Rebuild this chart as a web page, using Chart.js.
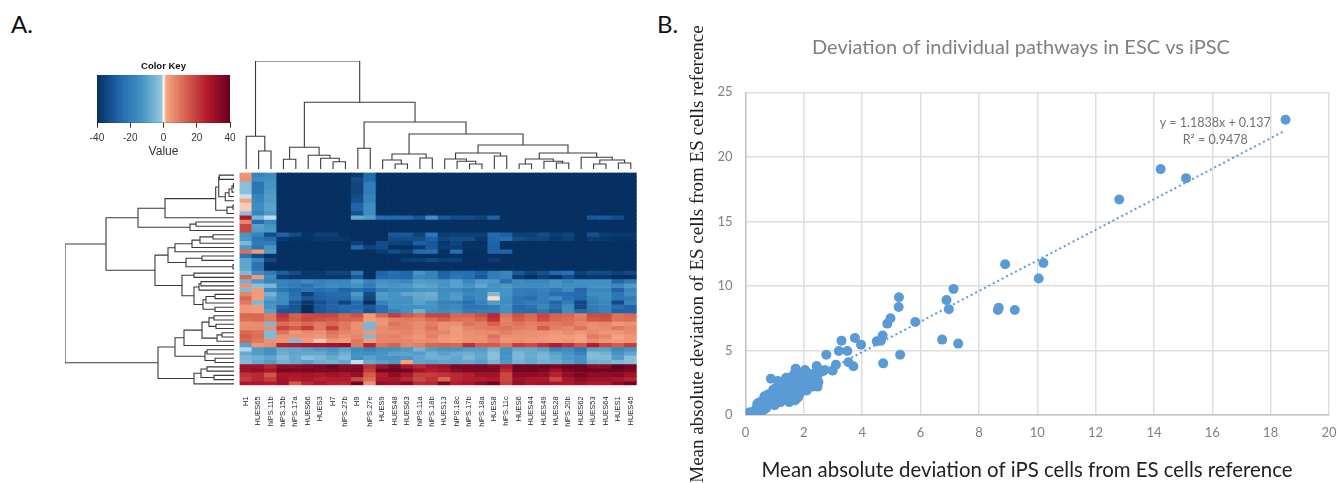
<!DOCTYPE html>
<html>
<head>
<meta charset="utf-8">
<title>Pathway deviation in ESC vs iPSC</title>
<script src="https://cdn.jsdelivr.net/npm/chart.js@4"></script>
<style>
  html, body { margin: 0; padding: 0; background: #fff; overflow: hidden; }
  body { width: 1338px; height: 483px; position: relative; }
  canvas { position: absolute; }
  .soft { filter: blur(0.4px); }
  .panel { position: absolute; font: 24px Lato, sans-serif; color: #111; }
</style>
</head>
<body>
<div class="panel" style="left:11px;top:9px">A.</div>
<div class="panel" style="left:657px;top:9px">B.</div>
<canvas id="key" class="soft" width="181" height="105" style="left:73px;top:55px"></canvas>
<canvas id="colTree" class="soft" width="401" height="112" style="left:237.5px;top:58.5px"></canvas>
<canvas id="rowTree" class="soft" width="173" height="217" style="left:62.7px;top:170.6px"></canvas>
<canvas id="heat" class="soft" width="425" height="275" style="left:225px;top:165px"></canvas>
<canvas id="scatter" width="683" height="483" style="left:655px;top:0"></canvas>
<script>
// ---- panel A data ----
const colNames = ['H1', 'HUES65', 'hiPS.11b', 'hiPS.15b', 'hiPS.17a', 'HUES66', 'HUES3', 'H7', 'hiPS.27b', 'H9', 'hiPS.27e', 'HUES9', 'HUES48', 'HUES63', 'hiPS.11a', 'hiPS.18b', 'HUES13', 'hiPS.18c', 'hiPS.17b', 'hiPS.18a', 'HUES8', 'hiPS.11c', 'HUES6', 'HUES44', 'HUES49', 'HUES28', 'hiPS.20b', 'HUES62', 'HUES53', 'HUES64', 'HUES1', 'HUES45'];

// top 25 rows, one array per row
const heatUpperRows = [
  [4,-18,-15,-40,-40,-40,-40,-40,-40,-38,-25,-40,-40,-40,-40,-40,-40,-40,-40,-40,-40,-40,-40,-40,-40,-40,-40,-40,-40,-40,-40,-40],
  [5,-15,-14,-40,-40,-40,-40,-40,-40,-33,-25,-40,-40,-40,-40,-40,-40,-40,-40,-40,-40,-40,-40,-40,-40,-40,-40,-40,-40,-40,-40,-40],
  [-3,-22,-13,-40,-40,-40,-40,-40,-40,-35,-20,-40,-40,-40,-40,-40,-40,-40,-40,-40,-40,-40,-40,-40,-40,-40,-40,-40,-40,-40,-40,-40],
  [-3,-22,-13,-40,-40,-40,-40,-40,-40,-35,-20,-40,-40,-40,-40,-40,-40,-40,-40,-40,-40,-40,-40,-40,-40,-40,-40,-40,-40,-40,-40,-40],
  [-3,-21,-12,-40,-40,-40,-40,-40,-40,-35,-20,-40,-40,-40,-40,-40,-40,-40,-40,-40,-40,-40,-40,-40,-40,-40,-40,-40,-40,-40,-40,-40],
  [-0.7,-18,-11,-40,-40,-40,-40,-40,-40,-33,-18,-40,-40,-40,-40,-40,-40,-40,-40,-40,-40,-40,-40,-40,-40,-40,-40,-40,-40,-40,-40,-40],
  [2,-17,-11,-40,-40,-40,-40,-40,-40,-32,-18,-40,-40,-40,-40,-40,-40,-40,-40,-40,-40,-40,-40,-40,-40,-40,-40,-40,-40,-40,-40,-40],
  [0.8,-15,-10,-40,-40,-40,-40,-40,-40,-27,-15,-40,-40,-40,-40,-40,-40,-40,-40,-40,-40,-40,-40,-40,-40,-40,-40,-40,-40,-40,-40,-40],
  [0.8,-15,-10,-40,-40,-40,-40,-40,-40,-27,-15,-40,-40,-40,-40,-40,-40,-40,-40,-40,-40,-40,-40,-40,-40,-40,-40,-40,-40,-40,-40,-40],
  [-3,-18,-12,-40,-40,-40,-40,-40,-40,-32,-15,-40,-40,-40,-40,-40,-40,-40,-40,-40,-40,-40,-40,-40,-40,-40,-40,-40,-40,-40,-40,-40],
  [28,-5,-0.8,-40,-40,-40,-40,-40,-40,-8,-11,-25,-26,-26,-31,-15,-30,-33,-33,-35,-28,-40,-40,-40,-40,-40,-40,-40,-30,-30,-33,-40],
  [7,-25,-17,-40,-40,-40,-40,-40,-40,-40,-40,-40,-40,-40,-40,-40,-40,-40,-40,-40,-40,-40,-40,-40,-40,-40,-40,-40,-40,-40,-40,-40],
  [18,-10,-13,-40,-40,-40,-40,-40,-40,-40,-40,-40,-40,-40,-40,-40,-40,-40,-40,-40,-40,-40,-40,-40,-40,-40,-40,-40,-40,-40,-40,-40],
  [18,-11,-12,-40,-40,-40,-40,-40,-40,-40,-40,-40,-40,-40,-40,-40,-40,-40,-40,-40,-40,-40,-40,-40,-40,-40,-40,-40,-40,-40,-40,-40],
  [-13,-18,-33,-27,-33,-39,-36,-36,-40,-40,-40,-40,-30,-30,-35,-22,-37,-36,-36,-36,-25,-28,-36,-36,-33,-37,-35,-40,-32,-37,-38,-38],
  [-12,-22,-25,-38,-39,-39,-38,-38,-38,-40,-40,-40,-33,-33,-33,-28,-35,-33,-33,-38,-27,-24,-33,-35,-35,-38,-36,-40,-37,-38,-39,-39],
  [-5,-21,-20,-40,-40,-40,-40,-40,-40,-36,-40,-33,-35,-36,-28,-30,-38,-35,-40,-40,-27,-40,-40,-40,-40,-40,-40,-40,-40,-40,-40,-40],
  [-12,-22,-13,-40,-40,-40,-40,-40,-40,-26,-35,-33,-40,-40,-37,-30,-37,-37,-39,-39,-28,-40,-40,-40,-40,-40,-40,-40,-40,-40,-40,-40],
  [11,3,-12,-40,-40,-40,-40,-40,-40,-40,-40,-37,-33,-36,-25,-24,-39,-24,-40,-40,-27,-27,-40,-40,-40,-40,-40,-40,-40,-40,-40,-40],
  [-22,-33,-39,-40,-40,-40,-40,-40,-40,-40,-40,-40,-40,-40,-40,-40,-40,-40,-40,-40,-40,-40,-40,-40,-40,-40,-40,-40,-40,-40,-40,-40],
  [-9,-17,-34,-40,-40,-40,-40,-40,-40,-40,-40,-40,-40,-37,-36,-34,-36,-36,-40,-40,-37,-40,-40,-40,-40,-40,-40,-40,-40,-40,-40,-40],
  [-9,-23,-40,-40,-40,-40,-40,-40,-40,-40,-40,-40,-40,-40,-40,-40,-40,-40,-40,-40,-40,-40,-40,-40,-40,-40,-40,-40,-40,-40,-40,-40],
  [-9,-23,-40,-40,-40,-40,-40,-40,-40,-40,-40,-40,-40,-40,-40,-40,-40,-40,-40,-40,-40,-40,-40,-40,-40,-40,-40,-40,-40,-40,-40,-40],
  [-4,-15,-20,-29,-33,-38,-38,-35,-35,-22,-40,-27,-24,-26,-13,-18,-28,-24,-24,-28,-20,-17,-30,-35,-32,-26,-24,-36,-33,-33,-36,-34],
  [12,3,-16,-36,-38,-38,-38,-38,-38,-30,-40,-26,-25,-26,-17,-18,-27,-22,-24,-30,-20,-18,-37,-40,-36,-39,-33,-39,-38,-38,-40,-40]
];
// bottom 25 rows, one array per column (the clusters read easier going down a column)
const heatLowerCols = [
  [-6,5,-4,7,12,9,4,4, 12,11,5,6,12,14,12,-10, -1,-8,-5,-4, 30,30,22,20,27],
  [-12,-3,3,3,3,-5,3,3, 12,12,6,6,10,11,9,4, -11,-11,-7,-8, 30,32,24,24,28],
  [-18,-5,-16,-6,-10,-14,-13,-10, 9,9,-5,5,-4,-4,5,6, -14,-13,-9,-11, 24,28,15,20,26],
  [-18,-18,-22,-15,-15,-16,-27,-30, 22,19,11,18,10,5,4,25, -8,-7,-4,-6, 33,37,28,29,30],
  [-19,-20,-25,-24,-22,-30,-31,-30, 13,14,9,14,4,5,-4,26, -9,-9,-8,-8, 32,36,28,26,14],
  [-15,-23,-22,-36,-30,-38,-40,-40, 17,18,12,20,6,5,3,28, -10,-8,-3,-10, 34,37,29,28,24],
  [-19,-18,-24,-27,-28,-32,-30,-30, 18,16,9,9,5,4,0.8,28, -12,-8,-5,-7, 36,36,28,25,28],
  [-17,-15,-22,-25,-26,-28,-27,-28, 18,15,12,19,10,8,4,29, -13,-11,-8,-6, 38,36,30,26,25],
  [-17,-17,-27,-25,-26,-35,-25,-26, 13,13,9,9,7,5,3,31, -10,-7,-5,-8, 34,35,28,26,24],
  [-11,-14,-24,-12,-16,-25,-26,-23, 16,12,5,5,6,7,9,9, -15,-14,-14,-0.7, 35,36,32,18,38],
  [-18,-20,-27,-33,-35,-40,-30,-32, 3,3,-5,-5,4,-4,3,24, -18,-14,-10,-8, 22,20,14,11,5],
  [-14,-12,-18,-11,-12,-18,-24,-24, 12,5,4,6,6,7,7,10, -14,-13,-13,-10, 30,37,26,27,32],
  [-15,-13,-15,-13,-13,-14,-14,-18, 20,8,10,8,6,8,7,13, -14,-10,-13,-12, 36,38,33,28,30],
  [-17,-12,-15,-9,-14,-14,-14,-14, 15,9,8,8,7,6,7,7, -12,-10,-12,2, 28,38,28,24,34],
  [-11,-9,-13,-8,-9,-10,-14,-7, 12,8,6,6,5,4,5,8, -6,-11,-9,-9, 24,30,20,18,23],
  [-12,-10,-12,-7,-8,-13,-13,-14, 18,11,8,10,7,8,6,12, -11,-7,-7,-10, 28,26,20,22,24],
  [-13,-13,-15,-14,-14,-19,-17,-16, 18,14,5,5,7,4,4,13, -13,-10,-7,-9, 30,28,22,12,36],
  [-10,-10,-15,-12,-11,-19,-16,-14, 12,11,5,3,3,3,3,12, -13,-8,-9,-9, 36,34,24,24,26],
  [-17,-13,-19,-17,-19,-24,-22,-20, 13,10,10,7,5,5,5,22, -11,-7,-5,-8, 36,36,26,26,28],
  [-11,-9,-16,-16,-16,-18,-22,-19, 16,13,8,8,6,5,5,14, -11,-9,-9,-10, 36,36,30,26,33],
  [-12,-14,-14,-4,0.5,-11,-20,-19, 24,22,13,9,6,10,8,14, -6,-3,-3,-5, 34,36,30,27,38],
  [-24,-12,-13,-13,-14,-15,-14,-14, 10,8,8,10,8,5,4,10, -13,-14,-13,-12, 27,24,18,18,20],
  [-15,-15,-20,-20,-22,-22,-25,-24, 16,14,10,8,6,5,5,20, -8,-5,-5,-6, 38,38,33,30,32],
  [-17,-15,-20,-21,-24,-20,-23,-25, 12,11,8,7,5,5,4,17, -8,-8,-8,-8, 38,38,33,28,28],
  [-17,-15,-18,-19,-19,-20,-17,-21, 18,17,9,14,5,4,4,22, -10,-6,-5,-6, 38,36,32,27,30],
  [-13,-13,-21,-24,-15,-27,-24,-27, 13,12,9,8,4,3,3,26, -18,-10,-8,-7, 36,30,25,18,28],
  [-17,-15,-16,-24,-23,-20,-15,-15, 12,11,10,7,6,3,4,22, -15,-13,-12,-10, 38,36,32,28,27],
  [-14,-15,-26,-25,-26,-34,-34,-26, 8,9,7,10,4,2,2,15, -21,-18,-14,-14, 38,38,36,33,30],
  [-14,-14,-17,-15,-18,-20,-20,-21, 17,15,6,5,6,9,6,26, -10,-4,-4,-6, 34,38,33,30,27],
  [-14,-14,-17,-15,-15,-17,-18,-18, 17,16,7,6,4,7,4,18, -10,-6,-4,-6, 34,38,33,30,27],
  [-26,-17,-27,-22,-22,-34,-24,-27, 10,10,4,9,4,2,3,14, -16,-13,-11,-4, 40,38,34,28,33],
  [-21,-12,-17,-15,-20,-18,-27,-27, 12,11,5,7,6,4,4,20, -13,-9,-3,-3, 38,36,30,25,38]
];

// dendrograms: [merge height, left, right], a plain number is a leaf index
const colMerges = [108,
  [32.7, 0, [18, 1, 2]],
  [66.7,
    [21.7, [9.7, 3, 4], [13.7, 5, [10.7, 6, [7.3, 7, 8]]]],
    [47, [20.7, 9, 10],
      [35,
        [15, [9, 11, [5, 12, 13]], [11, 14, 15]],
        [24,
          [16, [10, 16, [7.7, 17, [5, 18, 19]]], [13, 20, 21]],
          [16, [10, [5, 22, 23], [7.7, 24, [6, 25, 26]]], [11.7, 27, [9, [5, 28, 29], [6, 30, 31]]]]
        ]
      ]
    ]
  ]
];
const rowMerges = [169,
  [128,
    [96,
      [69, [18.3, [15.3, [14.7, 0, 1], [8.7, [5, [2, [0.5, 2, 3], 4], 5], 6]], [7, [1, 7, 8], 9]], 10],
      [44, [38, 11, 12], 13]
    ],
    [79,
      [66, [59, [42, [34, [21, 14, 15], 16], 17], 18], [48, [32, 19, 20], [1, 21, 22]]],
      [52, [40, 23, 24], [40, [35, [33, 25, 26], 27], [31, [28, [19, 28, 29], 30], [19, 31, 32]]]]
    ]
  ],
  [76,
    [59,
      [50, [32, [25, [20, 33, 34], [18, 35, 36]], [17, [12, 37, 38], 39]], 40],
      [29, [27, 41, 42], [19, 43, 44]]
    ],
    [40, [33, [27, 45, 46], [20, 47, 48]], 49]
  ]
];

const keyLevels = [-40,-39,-38,-37,-36,-35,-34,-33,-32,-31,-30,-29,-28,-27,-26,-25,-24,-23,-22,-21,-20,-19,-18,-17,-16,-15,-14,-13,-12,-11,-10,-9,-8,-7,-6,-5,-4,-3,-2,-1,0,1,2,3,4,5,6,7,8,9,10,11,12,13,14,15,16,17,18,19,20,21,22,23,24,25,26,27,28,29,30,31,32,33,34,35,36,37,38,39];

// ---- panel B data ----
const ipsDeviation = [18.51,14.23,15.1,12.81,10.21,8.9,10.05,7.13,5.26,5.25,6.89,6.97,8.68,8.65,9.23,5.82,6.74,7.29,5.3,4.97,4.86,4.7,4.5,4.64,3.75,3.29,3.96,4.72,3.2,3.49,2.77,3.53,3.7,3.1,2.99,2.72,2.44,2.47,1.72,2.04,0.87,1.11,1.39,
  0.15,0.25,0.3,0.4,0.45,0.5,0.35,0.5,0.55,0.6,0.65,0.4,0.45,0.55,0.7,0.75,0.6,0.7,0.8,0.65,0.75,0.85,0.9,0.95,0.8,0.9,1.0,1.05,1.1,1.0,1.1,1.15,1.2,1.25,1.3,1.25,1.3,1.4,1.4,1.5,1.55,1.5,1.6,1.5,1.4,1.55,1.65,1.7,1.8,1.7,1.85,1.85,1.9,1.75,1.8,1.95,2.0,2.05,2.1,2.2,2.25,2.1,2.15,1.7,1.6,2.3,2.4,2.45,2.55,2.3,2.5,2.65,1.35,1.2,1.05,0.95,1.45];
const esDeviation = [22.87,19.05,18.35,16.7,11.78,11.68,10.57,9.77,9.12,8.37,8.9,8.2,8.3,8.14,8.14,7.2,5.84,5.53,4.67,7.5,7.08,6.15,5.71,5.76,5.97,5.76,5.45,4.0,4.96,4.96,4.67,4.08,3.77,3.9,3.44,3.49,3.8,2.2,3.59,3.49,2.81,2.63,2.89,
  0.22,0.2,0.25,0.22,0.3,0.25,0.45,0.55,0.4,0.35,0.55,0.85,0.95,1.05,0.5,0.7,0.8,1.0,0.95,1.45,1.55,1.25,0.9,1.15,1.6,1.7,0.75,0.95,1.25,1.5,1.7,1.45,1.0,1.15,1.55,1.85,2.05,1.7,1.25,1.0,1.3,1.6,1.9,2.2,2.4,2.6,2.25,1.7,1.35,1.15,1.6,2.0,2.4,2.8,3.1,2.7,3.0,2.3,1.9,2.35,2.7,3.3,2.9,3.3,3.0,3.0,3.3,3.0,3.3,2.2,2.55,3.4,2.15,2.25,2.1,1.95,2.0];
const trendX = [0.13, 18.5];
const trendY = [0.29, 22.04];

// ---- helpers ----
const colorStops = [
  [-40, [5, 48, 97]], [-26.7, [33, 102, 172]], [-13.3, [67, 147, 195]], [-1.5, [146, 197, 222]],
  [-0.5, [209, 229, 240]], [0, [247, 247, 247]], [0.5, [253, 219, 199]], [1.5, [244, 165, 130]],
  [13.3, [214, 96, 77]], [26.7, [178, 24, 43]], [40, [103, 0, 31]]
];

function heatColor(v) {
  for (let i = 1; i < colorStops.length; i++) {
    const [b, cb] = colorStops[i];
    if (v <= b) {
      const [a, ca] = colorStops[i - 1];
      const t = (v - a) / (b - a);
      return 'rgb(' + ca.map((c, k) => Math.round(c + (cb[k] - c) * t)).join(',') + ')';
    }
  }
  return 'rgb(103,0,31)';
}

// walk a merge tree, one path per merge
function treePaths(node, out) {
  if (typeof node === 'number') return { pos: node + 0.5, h: 0 };
  const a = treePaths(node[1], out);
  const b = treePaths(node[2], out);
  out.push([[a.pos, a.h], [a.pos, node[0]], [b.pos, node[0]], [b.pos, b.h]]);
  return { pos: (a.pos + b.pos) / 2, h: node[0] };
}

function textPlugin(items) {
  return {
    id: 'panelText',
    afterDraw(chart) {
      const ctx = chart.ctx;
      items.forEach(t => {
        const x = t.value ? chart.scales.x.getPixelForValue(t.value[0]) : t.x;
        const y = t.value ? chart.scales.y.getPixelForValue(t.value[1]) : t.y;
        ctx.save();
        ctx.translate(x, y);
        if (t.rotate) ctx.rotate(t.rotate);
        ctx.font = t.font;
        ctx.fillStyle = t.color;
        ctx.textAlign = 'center';
        ctx.textBaseline = 'middle';
        ctx.fillText(t.text, 0, 0);
        ctx.restore();
      });
    }
  };
}

Chart.defaults.animation = false;
Chart.defaults.responsive = false;
Chart.defaults.plugins.legend.display = false;
Chart.defaults.plugins.tooltip.enabled = false;

// ---- colour key ----
new Chart(document.getElementById('key'), {
  type: 'bar',
  data: {
    labels: ['key'],
    datasets: keyLevels.map(v => ({
      data: [[v, v + 1]],
      backgroundColor: heatColor(v + 0.5),
      grouped: false, barPercentage: 1, categoryPercentage: 1
    }))
  },
  options: {
    indexAxis: 'y',
    layout: { padding: { left: 24, right: 24 } },
    plugins: {
      title: {
        display: true, text: 'Color Key', color: '#111',
        font: { family: 'Liberation Sans', size: 9.5, weight: 'bold' },
        padding: { top: 5.3, bottom: 3.3 }
      }
    },
    scales: {
      y: { display: false },
      x: {
        min: -40, max: 40,
        afterFit(s) { s.height = 37.3; },
        grid: { drawOnChartArea: false, drawTicks: true, tickLength: 5, color: '#333' },
        border: { display: true, color: '#333' },
        ticks: { stepSize: 20, padding: 4.5, maxRotation: 0, color: '#333', font: { family: 'Liberation Sans', size: 10 } },
        title: { display: true, text: 'Value', color: '#333', font: { family: 'Liberation Sans', size: 12 }, padding: { top: 0, bottom: 1 } }
      }
    }
  }
});

// ---- dendrograms ----
const colPaths = [];
treePaths(colMerges, colPaths);
new Chart(document.getElementById('colTree'), {
  type: 'scatter',
  data: {
    datasets: colPaths.map(p => ({
      data: p.map(q => ({ x: q[0], y: q[1] })),
      showLine: true, pointRadius: 0, borderColor: '#3a3a3a', borderWidth: 1.1
    }))
  },
  options: {
    layout: { padding: 2 },
    scales: {
      x: { display: false, min: 0, max: 32 },
      y: { display: false, min: 0, max: 108 }
    }
  }
});

const rowPaths = [];
treePaths(rowMerges, rowPaths);
new Chart(document.getElementById('rowTree'), {
  type: 'scatter',
  data: {
    datasets: rowPaths.map(p => ({
      data: p.map(q => ({ x: q[1], y: q[0] })),
      showLine: true, pointRadius: 0, borderColor: '#3a3a3a', borderWidth: 1.1
    }))
  },
  options: {
    layout: { padding: 2 },
    scales: {
      x: { display: false, min: 0, max: 169, reverse: true },
      y: { display: false, min: 0, max: 50, reverse: true }
    }
  }
});

// ---- heatmap ----
const heatRows = heatUpperRows.slice();
for (let r = 0; r < 25; r++) heatRows.push(heatLowerCols.map(col => col[r]));

new Chart(document.getElementById('heat'), {
  type: 'bar',
  data: {
    labels: colNames,
    datasets: heatRows.map((row, r) => ({
      data: row.map(() => [r, r + 1]),
      backgroundColor: row.map(heatColor),
      grouped: false, barPercentage: 1, categoryPercentage: 1
    }))
  },
  options: {
    layout: { padding: { left: 14.5, right: 13.3, top: 7.6 } },
    scales: {
      y: { display: false, min: 0, max: 50, reverse: true },
      x: {
        afterFit(s) { s.height = 54.7; },
        grid: { display: false },
        border: { display: false },
        ticks: {
          autoSkip: false, minRotation: 90, maxRotation: 90, padding: 3,
          color: '#223', font: { family: 'Liberation Sans', size: 7.5 }
        }
      }
    }
  }
});

// ---- scatter ----
new Chart(document.getElementById('scatter'), {
  type: 'scatter',
  data: {
    datasets: [
      {
        data: trendX.map((x, i) => ({ x, y: trendY[i] })),
        showLine: true, pointRadius: 0, borderColor: '#5b9bd5', borderWidth: 2, borderDash: [2, 3]
      },
      {
        data: ipsDeviation.map((x, i) => ({ x, y: esDeviation[i] })),
        pointRadius: 5, backgroundColor: '#5b9bd5', borderWidth: 0
      }
    ]
  },
  options: {
    layout: { padding: { top: 92.3, right: 9 } },
    scales: {
      x: {
        min: 0, max: 20,
        // the "20" label may overhang, the plot keeps its right edge
        afterFit(s) { s.height = 68; s.paddingRight = 0; s.paddingLeft = 0; },
        grid: { color: '#dedede', lineWidth: 1.5, drawTicks: false },
        border: { color: '#c4c4c4', width: 1.5 },
        ticks: { stepSize: 2, padding: 10, maxRotation: 0, color: '#808080', font: { family: 'Lato', size: 13 } }
      },
      y: {
        min: 0, max: 25,
        afterFit(s) { s.width = 90.5; },
        grid: { color: '#dedede', lineWidth: 1.5, drawTicks: false },
        border: { color: '#c4c4c4', width: 1.5 },
        ticks: { stepSize: 5, padding: 13, color: '#808080', font: { family: 'Lato', size: 13 } }
      }
    }
  },
  plugins: [textPlugin([
    { text: 'Deviation of individual pathways in ESC vs iPSC', x: 366, y: 48, font: '20px Lato', color: '#808080' },
    { text: 'Mean absolute deviation of ES cells from ES cells reference', x: 43, y: 254, rotate: -Math.PI / 2, font: '19px "Liberation Serif"', color: '#222' },
    { text: 'Mean absolute deviation of iPS cells from ES cells reference', x: 372, y: 470, font: '20.4px Lato', color: '#222' },
    { text: 'y = 1.1838x + 0.137', value: [16.1, 22.6], font: '12.5px Lato', color: '#707070' },
    { text: 'R\u00b2 = 0.9478', value: [16.1, 21.3], font: '12.5px Lato', color: '#707070' }
  ])]
});
</script>
</body>
</html>
